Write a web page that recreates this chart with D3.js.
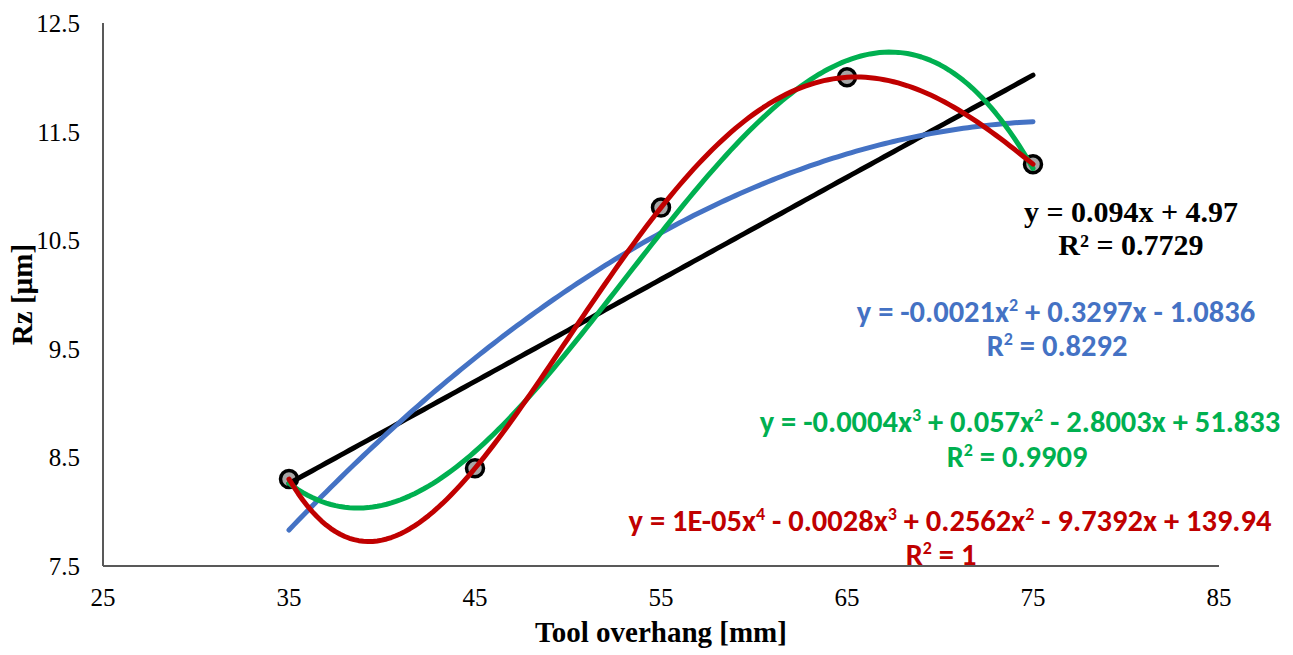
<!DOCTYPE html>
<html>
<head>
<meta charset="utf-8">
<script src="https://cdn.jsdelivr.net/npm/d3@7"></script>
<style>
	body { margin: 0; background: #fff; }
	svg { display: block; }
	.tick-label { font-family: "Liberation Serif", "Times New Roman", serif; font-size: 25px; fill: #000; }
	.axis-title { font-family: "Liberation Serif", "Times New Roman", serif; font-size: 29px; font-weight: bold; fill: #000; }
	.eq-serif { font-family: "Liberation Serif", "Times New Roman", serif; font-size: 30px; font-weight: bold; }
	.eq-sans { font-family: Carlito, Lato, "Open Sans", sans-serif; font-size: 30.5px; font-weight: bold; }
</style>
</head>
<body>
<svg id="visSVG" width="1293" height="655"></svg>
<script>

// ---- data ----
var overhang = [35, 45, 55, 65, 75];
var rz = [8.3, 8.4, 10.8, 12.0, 11.2];

var xTicks = [25, 35, 45, 55, 65, 75, 85];
var yTicks = [7.5, 8.5, 9.5, 10.5, 11.5, 12.5];

// trendline degrees and their labels (as Excel printed them)
var fitDegrees = [1, 2, 3, 4];
var fitEquations = [
	"y = 0.094x + 4.97",
	"y = -0.0021x^2 + 0.3297x - 1.0836",
	"y = -0.0004x^3 + 0.057x^2 - 2.8003x + 51.833",
	"y = 1E-05x^4 - 0.0028x^3 + 0.2562x^2 - 9.7392x + 139.94"
];
var fitR2 = ["R² = 0.7729", "R^2 = 0.8292", "R^2 = 0.9909", "R^2 = 1"];
var fitColors = ["#000000", "#4472C4", "#00B050", "#C00000"];

// ---- layout ----
var PLOT_L = 103, PLOT_R = 1219;
var PLOT_T = 23, PLOT_B = 566;
var LINE_W = 5;
var MARKER_R = 8.5;

// label anchors [eqX, eqY, r2X, r2Y] in pixels (baselines)
var LABEL_POS = [
	[1131, 222, 1131, 255],
	[1056, 322, 1057, 356],
	[1020, 432, 1017, 467],
	[950, 531, 941, 565]
];

var svg = d3.select("#visSVG");

var x = d3.scaleLinear().domain([25, 85]).range([PLOT_L, PLOT_R]);
var y = d3.scaleLinear().domain([7.5, 12.5]).range([PLOT_B, PLOT_T]);

// least squares polynomial fit (centred x for conditioning)
function polyFit(xs, ys, degree)
{
	var mx = d3.mean(xs), sx = 10;
	var n = degree + 1;
	var A = [], b = [];
	for (var i = 0; i < n; i++) {
		A.push(new Array(n).fill(0));
		b.push(0);
	}
	xs.forEach(function(xv, k) {
		var u = (xv - mx) / sx;
		for (var i = 0; i < n; i++) {
			for (var j = 0; j < n; j++) A[i][j] += Math.pow(u, i + j);
			b[i] += ys[k] * Math.pow(u, i);
		}
	});
	// gaussian elimination
	for (var c = 0; c < n; c++) {
		var p = c;
		for (var r = c + 1; r < n; r++) if (Math.abs(A[r][c]) > Math.abs(A[p][c])) p = r;
		var t = A[c]; A[c] = A[p]; A[p] = t;
		t = b[c]; b[c] = b[p]; b[p] = t;
		for (var r = c + 1; r < n; r++) {
			var f = A[r][c] / A[c][c];
			for (var j = c; j < n; j++) A[r][j] -= f * A[c][j];
			b[r] -= f * b[c];
		}
	}
	var coef = new Array(n).fill(0);
	for (var i = n - 1; i >= 0; i--) {
		var s = b[i];
		for (var j = i + 1; j < n; j++) s -= A[i][j] * coef[j];
		coef[i] = s / A[i][i];
	}
	return function(xv) {
		var u = (xv - mx) / sx, s = 0;
		for (var i = 0; i < n; i++) s += coef[i] * Math.pow(u, i);
		return s;
	};
}

// axes (no tick marks, just the lines)
var axisColor = "#595959";
svg.append("line")
	.attr("x1", PLOT_L).attr("y1", PLOT_T)
	.attr("x2", PLOT_L).attr("y2", PLOT_B)
	.attr("stroke", axisColor).attr("stroke-width", 2);
svg.append("line")
	.attr("x1", PLOT_L).attr("y1", PLOT_B)
	.attr("x2", PLOT_R).attr("y2", PLOT_B)
	.attr("stroke", axisColor).attr("stroke-width", 2);

svg.selectAll("text.xtick").data(xTicks).enter().append("text")
	.attr("class", "tick-label xtick")
	.attr("x", function(d) { return x(d); })
	.attr("y", PLOT_B + 40)
	.attr("text-anchor", "middle")
	.text(function(d) { return d; });

svg.selectAll("text.ytick").data(yTicks).enter().append("text")
	.attr("class", "tick-label ytick")
	.attr("x", PLOT_L - 23)
	.attr("y", function(d) { return y(d) + 9; })
	.attr("text-anchor", "end")
	.text(function(d) { return d.toFixed(1); });

svg.append("text")
	.attr("class", "axis-title")
	.attr("x", (PLOT_L + PLOT_R) / 2)
	.attr("y", 642)
	.attr("text-anchor", "middle")
	.text("Tool overhang [mm]");

svg.append("text")
	.attr("class", "axis-title")
	.attr("transform", "translate(32," + ((PLOT_T + PLOT_B) / 2) + ") rotate(-90)")
	.attr("text-anchor", "middle")
	.text("Rz [µm]");

// markers first, Excel draws trendlines over them
svg.selectAll("circle.pt").data(overhang).enter().append("circle")
	.attr("class", "pt")
	.attr("cx", function(d) { return x(d); })
	.attr("cy", function(d, i) { return y(rz[i]); })
	.attr("r", MARKER_R)
	.attr("fill", "#A6A6A6")
	.attr("stroke", "#000")
	.attr("stroke-width", 3.5);

var xMin = d3.min(overhang), xMax = d3.max(overhang);
var samples = d3.range(xMin, xMax + 0.001, 0.25);
var line = d3.line()
	.x(function(d) { return x(d[0]); })
	.y(function(d) { return y(d[1]); });

fitDegrees.forEach(function(deg, i) {
	var f = polyFit(overhang, rz, deg);
	svg.append("path")
		.datum(samples.map(function(s) { return [s, f(s)]; }))
		.attr("d", line)
		.attr("fill", "none")
		.attr("stroke", fitColors[i])
		.attr("stroke-width", LINE_W)
		.attr("stroke-linecap", "round")
		.attr("stroke-linejoin", "round");
});

// equation labels, "^n" becomes a superscript
function addLabel(str, px, py, cls, color)
{
	var t = svg.append("text")
		.attr("class", cls)
		.attr("x", px).attr("y", py)
		.attr("text-anchor", "middle")
		.attr("fill", color);
	var parts = str.split(/\^(\d)/);
	parts.forEach(function(p, k) {
		if (p === "") return;
		var span = t.append("tspan").text(p);
		if (k % 2 === 1) {
			span.attr("baseline-shift", "super").attr("font-size", "18px");
		}
	});
}

fitEquations.forEach(function(eq, i) {
	var cls = i === 0 ? "eq-serif" : "eq-sans";
	var pos = LABEL_POS[i];
	addLabel(eq, pos[0], pos[1], cls, fitColors[i]);
	addLabel(fitR2[i], pos[2], pos[3], cls, fitColors[i]);
});

</script>
</body>
</html>
